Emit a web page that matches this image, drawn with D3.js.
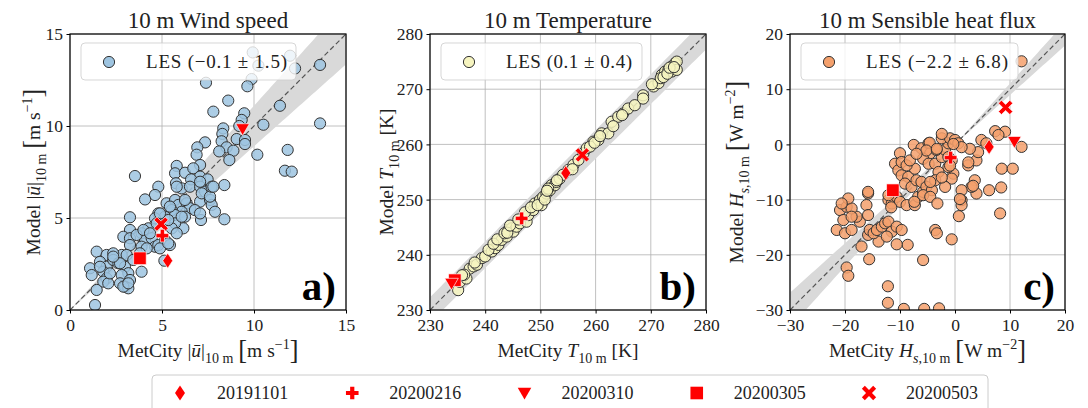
<!DOCTYPE html>
<html>
<head>
<meta charset="utf-8">
<script src="https://cdn.jsdelivr.net/npm/d3@7"></script>
<style>
  body { margin: 0; background: #fff; }
  svg { display: block; }
  text { font-family: "Liberation Serif", "DejaVu Serif", serif; fill: #222; }
</style>
</head>
<body>
<svg id="fig" width="1088" height="408"></svg>
<script>
// ---------- 10 m wind speed: MetCity observation vs LES model ----------
const windMet = [9.93,10.24,11.96,12.23,13.59,9.87,7.39,9.64,8.6,7.79,11.41,9.47,9.33,10.51,13.59,8.33,8.28,9.06,9.51,9.51,8.24,7.34,6.92,8.51,8.88,8.11,6.88,11.83,10.18,8.66,11.68,12.05,9.2,
  5.8,7.07,5.71,6.25,6.70,7.07,7.48,3.53,6.58,5.76,8.39,4.80,6.07,6.52,7.07,7.34,4.62,4.08,5.25,5.71,5.89,6.34,7.07,7.61,7.70,6.52,6.79,6.07,5.53,4.80,5.16,5.71,6.25,7.12,7.88,8.39,3.26,4.62,6.16,5.71,5.53,5.80,5.34,4.26,3.89,4.08,3.26,2.90,3.26,3.62,4.44,4.62,4.80,5.16,5.43,4.89,3.89,4.17,3.26,2.81,3.08,1.45,1.99,2.35,1.63,1.99,2.35,2.63,2.99,3.17,2.81,3.26,2.72,2.99,3.17,1.09,1.18,1.81,1.99,1.81,2.08,1.45,1.36,3.89,5.13,7.16,7.61,7.70,
  5.8,6.25,7.07,7.79,7.07,6.07,5.43,4.89,4.71,3.99,4.35,5.34,3.8,3.44,2.72,2.35,2.17,2.9,3.17,1.63];
const windLes = [14.0,13.28,13.82,13.13,13.32,12.55,12.35,12.16,11.38,10.78,11.1,10.69,10.33,10.07,10.14,9.87,9.57,9.29,9.24,9.02,9.17,9.11,8.84,8.84,8.66,8.62,8.44,8.70,8.44,8.15,7.57,7.52,10.0,
  7.83,7.88,7.43,7.46,7.70,7.25,7.10,7.28,7.10,6.89,6.79,6.70,6.61,6.70,6.70,6.43,6.25,6.01,5.80,5.98,5.71,5.80,5.89,5.98,5.71,5.53,5.43,5.34,5.43,5.25,5.07,5.16,5.07,4.89,5.34,4.93,5.04,4.98,4.44,4.71,4.44,4.17,4.89,4.44,4.17,3.80,4.35,3.98,3.90,4.08,3.90,3.44,3.53,3.80,3.53,3.35,3.44,3.35,3.53,2.99,2.99,3.17,2.99,3.08,2.62,2.35,2.72,2.54,2.35,2.0,1.90,1.63,1.45,1.27,1.18,2.27,1.90,2.08,1.72,1.54,1.45,1.09,0.27,2.08,2.68,6.34,6.16,6.70,
  6.7,5.98,6.97,6.7,5.25,5.07,5.62,5.25,4.71,4.35,4.17,3.62,3.08,2.72,2.54,2.9,1.99,1.27,1.45,2.35];

// ---------- 10 m temperature (K) ----------
const tempMet = [235.1,235.4,236.6,237.2,237.9,238.5,239.4,240.0,241.2,241.8,242.4,243.0,243.9,244.2,244.8,245.1,245.7,246.3,247.5,247.8,248.7,249.0,249.9,250.2,250.5,251.1,251.7,252.0,252.6,252.9,253.5,254.1,255.1,256.0,256.9,257.8,258.4,259.6,260.5,261.1,262.3,262.9,264.1,265.0,265.9,267.1,268.6,268.6,270.5,271.4,272.0,272.6,273.2,273.8,274.4,274.7,273.8,274.7,
  236.2,238.1,240.6,241.5,242.2,243.5,244.0,244.5,246.0,247.2,248.3,249.5,250.8,251.4,251.2,253.0,255.8,259.0,259.8,260.8,263.2,264.8,270.2,271.8,272.3,273.0,273.4,274.2,235.8];
const tempLes = [233.6,235.1,235.7,237.5,237.9,238.2,239.4,239.7,240.6,241.2,241.8,242.7,243.3,244.5,244.8,244.2,245.1,245.7,246.0,247.2,248.1,249.3,249.9,249.0,250.5,251.1,251.7,252.6,252.6,253.2,253.8,254.5,255.4,256.3,257.2,258.4,259.3,260.5,260.8,262.0,262.0,264.1,265.0,265.6,266.5,267.1,268.9,268.3,270.5,271.1,272.6,273.2,273.5,274.1,274.7,275.0,273.2,273.5,
  236.4,238.6,240.9,242.0,242.8,243.9,244.0,245.3,246.4,247.7,248.6,249.0,250.0,252.0,251.6,253.5,255.5,259.6,260.3,261.5,263.3,265.3,270.9,272.0,272.2,272.8,273.9,274.0,236.3];

// ---------- 10 m sensible heat flux (W m^-2) ----------
const fluxMet = [12.1,9.1,7.3,7.9,4.8,5.7,12.1,8.5,10.5,8.4,6.2,8.2,3.6,3.9,3.0,2.4,3.9,4.2,2.7,1.2,1.2,1.2,0.7,-0.6,-5.8,-5.6,-2.9,-9.3,-12.2,-12.2,-19.7,-19.4,-15.6,-8.6,-10.6,-21.5,-20.0,-18.8,-17.3,-17.9,-20.9,-19.7,-18.8,-20.3,-19.4,-18.8,-20.6,-17.0,-13.9,-15.8,-15.5,-14.8,-15.8,-16.1,-15.8,-14.2,-13.3,-12.7,-12.1,-11.5,-12.4,-10.6,-9.7,-3.6,-3.3,-12.1,-11.5,-10.6,-10.0,-8.8,-7.3,-6.7,-5.8,-10.0,-10.9,-10.3,-9.7,-8.5,-9.1,-7.9,-7.3,-7.0,-6.1,-5.2,-4.2,-5.8,-4.5,-7.5,-6.1,-4.8,-4.5,-5.8,-4.8,-3.6,-2.4,-1.8,-1.2,-2.4,-0.9,0.0,0.6,1.2,-1.2,-0.6,-0.3,-1.2,-0.6,-3.0,-3.6,-4.5,-1.8,-9.7,-8.8,-8.2,-7.4,-12.1,-3.2,-15.8,
  -11.6,-3.4,-4.6,2.42,3.3,0.9,-0.3,-2.4,-5.2,-7.0,-3.3,-0.9,-2.4];
const fluxLes = [15.05,2.3,2.4,1.7,0.8,0.2,-0.45,-4.4,-4.4,-7.8,-8.3,-12.5,-6.5,-8.9,-7.7,-3.8,-2.9,-1.4,-0.8,-8.3,-10.1,-11.0,-13.0,-17.2,-20.95,-29.8,-29.7,-29.8,-25.7,-28.7,-22.3,-23.8,-20.8,-18.2,-18.1,-15.5,-16.1,-15.5,-14.0,-13.1,-11.9,-11.3,-11.6,-13.7,-9.8,-13.1,-10.7,-18.5,-17.6,-16.4,-15.5,-16.1,-8.9,-11.0,-12.8,-15.5,-14.9,-14.3,-14.0,-15.8,-16.7,-14.9,-15.5,-15.5,-16.1,-10.1,-10.7,-9.5,-10.4,-11.0,-11.0,-9.5,-8.6,-1.6,-3.5,-4.7,-5.6,-5.9,-7.1,-7.7,-4.4,-6.5,-6.8,-7.7,-8.3,-9.2,-9.5,-0.1,-0.7,0.2,-1.6,-2.6,-3.5,-3.5,-2.3,-1.0,0.2,1.1,1.1,0.8,0.2,-0.5,-2.3,-2.9,-5.3,-4.1,-6.2,-5.0,-6.5,-6.8,-7.7,-3.2,-3.8,-2.9,-10.4,-9.2,-10.7,-8.6,
  -11.4,-1.0,0.3,-3.25,-7.5,-9.9,0.07,1.9,-1.1,-1.7,-0.8,-3.85,-6.0];

// ---------- highlighted case days ----------
const caseDates = ["20191101", "20200216", "20200310", "20200305", "20200503"];
const caseWindMet = [5.31, 5.02, 9.38, 3.80, 4.95];
const caseWindLes = [2.68, 4.04, 9.84, 2.81, 4.67];
const caseTempMet = [254.6, 246.6, 233.9, 234.5, 257.6];
const caseTempLes = [254.8, 246.6, 234.8, 235.4, 258.1];
const caseFluxMet = [6.2, -0.8, 10.8, -11.3, 9.2];
const caseFluxLes = [-0.45, -2.4, 0.5, -8.3, 6.7];

// tick labels
const windTicks = [0, 5, 10, 15];
const tempTicks = [230, 240, 250, 260, 270, 280];
const fluxTicks = [-30, -20, -10, 0, 10, 20];

const svg = d3.select("#fig");
const R = 5.6; // scatter point radius

// marker shapes for the case days (custom d3 symbol types)
function polygonType(pts) {
  return { draw(c) { pts.forEach((p, i) => i ? c.lineTo(p[0], p[1]) : c.moveTo(p[0], p[1])); c.closePath(); } };
}
const plusPts = (a, b) => [[-b,-a],[b,-a],[b,-b],[a,-b],[a,b],[b,b],[b,a],[-b,a],[-b,b],[-a,b],[-a,-b],[-b,-b]];
const rot45 = pts => pts.map(([px, py]) => [(px - py) * Math.SQRT1_2, (px + py) * Math.SQRT1_2]);
const thinDiamond = polygonType([[0,-7.5],[5,0],[0,7.5],[-5,0]]);
const filledPlus = polygonType(plusPts(6.3, 2.1));
const triDown = polygonType([[-6.8,-5.2],[6.8,-5.2],[0,6.6]]);
const squareM = polygonType([[-6.3,-6.3],[6.3,-6.3],[6.3,6.3],[-6.3,6.3]]);
const filledX = polygonType(rot45(plusPts(8.0, 2.1)));
const caseShapes = [thinDiamond, filledPlus, triDown, squareM, filledX];

// text built from pieces: plain, italic, subscript, superscript, big bracket
function rich(textSel, parts, size) {
  let shift = 0;
  parts.forEach(([t, kind]) => {
    const ts = textSel.append("tspan").text(t);
    let target = 0, fs = size;
    if (kind === "sub" || kind === "isub") { target = size * 0.3; fs = size * 0.72; }
    if (kind === "sup") { target = -size * 0.42; fs = size * 0.72; }
    if (kind === "big") { target = size * 0.1; fs = size * 1.35; }
    if (kind === "i" || kind === "isub") ts.style("font-style", "italic");
    ts.attr("font-size", fs);
    if (target !== shift) { ts.attr("dy", target - shift); shift = target; }
  });
}

function drawPanel(cfg) {
  const g = svg.append("g");
  const x = d3.scaleLinear().domain(cfg.domain).range([cfg.left, cfg.right]);
  const y = d3.scaleLinear().domain(cfg.domain).range([cfg.bottom, cfg.top]);
  const clipId = "clip" + cfg.key;
  svg.append("clipPath").attr("id", clipId).append("rect")
    .attr("x", cfg.left).attr("y", cfg.top)
    .attr("width", cfg.right - cfg.left).attr("height", cfg.bottom - cfg.top);

  // grid
  const grid = g.append("g").attr("stroke", "#b0b0b0").attr("stroke-width", 0.8);
  cfg.ticks.forEach(t => {
    grid.append("line").attr("x1", x(t)).attr("x2", x(t)).attr("y1", cfg.top).attr("y2", cfg.bottom);
    grid.append("line").attr("y1", y(t)).attr("y2", y(t)).attr("x1", cfg.left).attr("x2", cfg.right);
  });

  const inner = g.append("g").attr("clip-path", `url(#${clipId})`);

  // uncertainty band around the 1:1 line
  const [d0, d1] = cfg.domain;
  const xs = d3.range(0, 101).map(i => d0 + (d1 - d0) * i / 100);
  xs.unshift(d0 - (d1 - d0) * 0.2); xs.push(d1 + (d1 - d0) * 0.2);
  const bandArea = d3.area()
    .x(v => x(v)).y0(v => y(v - cfg.band(v))).y1(v => y(v + cfg.band(v)));
  inner.append("path").datum(xs).attr("d", bandArea).attr("fill", "#d9d9d9").attr("stroke", "none");

  // 1:1 line
  inner.append("line").attr("x1", x(d0)).attr("y1", y(d0)).attr("x2", x(d1)).attr("y2", y(d1))
    .attr("stroke", "#555").attr("stroke-width", 1.2).attr("stroke-dasharray", "5,3");

  // LES points
  inner.append("g").selectAll("circle").data(cfg.met.map((v, i) => [v, cfg.les[i]])).join("circle")
    .attr("cx", d => x(d[0])).attr("cy", d => y(d[1])).attr("r", R)
    .attr("fill", cfg.color).attr("fill-opacity", 0.85)
    .attr("stroke", "#333").attr("stroke-width", 1);

  // case days (last date drawn first so the earlier ones sit on top)
  const cases = cfg.caseMet.map((v, i) => [v, cfg.caseLes[i], i]).reverse();
  inner.append("g").selectAll("path").data(cases).join("path")
    .attr("transform", d => `translate(${x(d[0])},${y(d[1])})`)
    .attr("d", d => d3.symbol().type(caseShapes[d[2]])())
    .attr("fill", "#ff0000").attr("stroke", "#fff").attr("stroke-width", 0.8).attr("stroke-opacity", 0.8);

  // axes
  const xa = g.append("g").attr("transform", `translate(0,${cfg.bottom})`)
    .call(d3.axisBottom(x).tickValues(cfg.ticks).tickSize(3.5).tickSizeOuter(0).tickPadding(5));
  const ya = g.append("g").attr("transform", `translate(${cfg.left},0)`)
    .call(d3.axisLeft(y).tickValues(cfg.ticks).tickSize(3.5).tickSizeOuter(0).tickPadding(3.5));
  [xa, ya].forEach(a => {
    a.selectAll("text").attr("font-size", 17.5).attr("font-family", null).style("fill", "#222");
    a.selectAll("line").attr("stroke", "#000");
    a.select(".domain").remove();
  });
  g.append("rect").attr("x", cfg.left).attr("y", cfg.top)
    .attr("width", cfg.right - cfg.left).attr("height", cfg.bottom - cfg.top)
    .attr("fill", "none").attr("stroke", "#000").attr("stroke-width", 1.2);

  const cx = (cfg.left + cfg.right) / 2, cy = (cfg.top + cfg.bottom) / 2;

  // title
  g.append("text").attr("x", cx).attr("y", 28).attr("text-anchor", "middle")
    .attr("font-size", 23).text(cfg.title);

  // axis labels
  rich(g.append("text").attr("x", cx).attr("y", 357).attr("text-anchor", "middle").attr("font-size", 19.5),
    [["MetCity "]].concat(cfg.labelParts), 19.5);
  rich(g.append("text").attr("transform", `translate(${cfg.left - cfg.yLabelGap},${cy}) rotate(-90)`)
    .attr("text-anchor", "middle").attr("font-size", 19.5),
    [["Model "]].concat(cfg.labelParts), 19.5);

  // legend
  const lg = g.append("g");
  lg.append("rect").attr("x", cfg.left + 11).attr("y", 43).attr("width", cfg.legendW).attr("height", 37)
    .attr("rx", 4).attr("fill", "#fff").attr("fill-opacity", 0.8)
    .attr("stroke", "#ccc").attr("stroke-opacity", 0.8);
  lg.append("circle").attr("cx", cfg.left + 39).attr("cy", 62).attr("r", R)
    .attr("fill", cfg.color).attr("stroke", "#333");
  lg.append("text").attr("x", cfg.left + 76).attr("y", 68).attr("font-size", 19)
    .attr("textLength", cfg.legendTextW).attr("lengthAdjust", "spacing").text(cfg.legendText);

  // panel letter
  g.append("text").attr("x", cfg.right - 10).attr("y", 300).attr("text-anchor", "end")
    .attr("font-size", 41).attr("font-weight", "bold").style("fill", "#000").text(cfg.letter);
}

const uLabel = [["|"], ["ū", "i"], ["|"], ["10 m", "sub"], ["  "], ["[", "big"], ["m s"], ["−1", "sup"], ["]", "big"]];
const tLabel = [["T", "i"], ["10 m", "sub"], [" [K]"]];
const hLabel = [["H", "i"], ["s", "isub"], [",10 m", "sub"], ["  "], ["[", "big"], ["W m"], ["−2", "sup"], ["]", "big"]];

drawPanel({ key: "a", left: 70, right: 346, top: 34, bottom: 310, domain: [0, 15], ticks: windTicks,
  met: windMet, les: windLes, caseMet: caseWindMet, caseLes: caseWindLes,
  band: v => 0.11 * Math.abs(v), color: "#9ec4e0", title: "10 m Wind speed", yLabelGap: 30,
  labelParts: uLabel, legendText: "LES (−0.1 ± 1.5)", legendTextW: 141, legendW: 215, letter: "a)" });
drawPanel({ key: "b", left: 430, right: 706, top: 34, bottom: 310, domain: [230, 280], ticks: tempTicks,
  met: tempMet, les: tempLes, caseMet: caseTempMet, caseLes: caseTempLes,
  band: v => 0.01 * v, color: "#f6f4bf", title: "10 m Temperature", yLabelGap: 37,
  labelParts: tLabel, legendText: "LES (0.1 ± 0.4)", legendTextW: 126, legendW: 201, letter: "b)" });
drawPanel({ key: "c", left: 790, right: 1065, top: 34, bottom: 310, domain: [-30, 20], ticks: fluxTicks,
  met: fluxMet, les: fluxLes, caseMet: caseFluxMet, caseLes: caseFluxLes,
  band: v => 0.105 * Math.abs(v), color: "#f4a06c", title: "10 m Sensible heat flux", yLabelGap: 47,
  labelParts: hLabel, legendText: "LES (−2.2 ± 6.8)", legendTextW: 142, legendW: 217, letter: "c)" });

// shared legend for the case days
const bl = svg.append("g");
bl.append("rect").attr("x", 152).attr("y", 375).attr("width", 836).attr("height", 45)
  .attr("rx", 4).attr("fill", "#fff").attr("stroke", "#ccc");
const legX = d3.scaleLinear().domain([0, caseDates.length - 1]).range([180, 869]);
caseDates.forEach((d, i) => {
  bl.append("path").attr("transform", `translate(${legX(i)},393)`)
    .attr("d", d3.symbol().type(caseShapes[i])()).attr("fill", "#ff0000");
  bl.append("text").attr("x", legX(i) + 37).attr("y", 399).attr("font-size", 18).text(d);
});
</script>
</body>
</html>
